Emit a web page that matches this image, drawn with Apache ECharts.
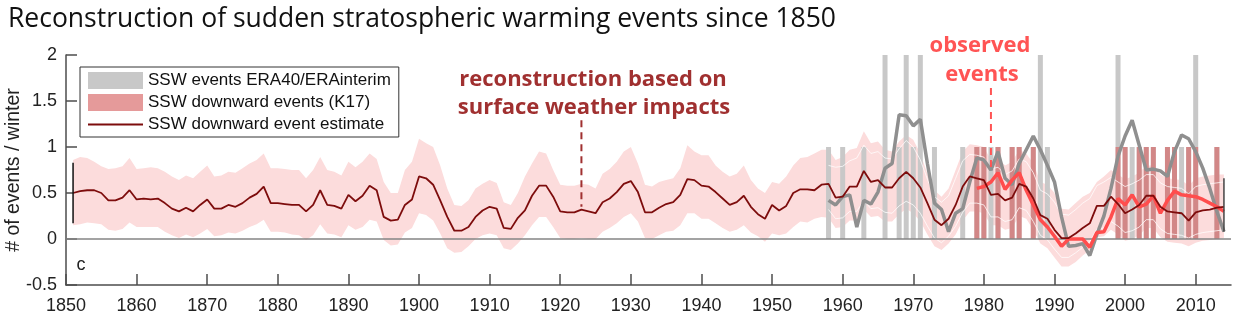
<!DOCTYPE html>
<html><head><meta charset="utf-8">
<script src="https://cdn.jsdelivr.net/npm/echarts@6/dist/echarts.min.js"></script>
<style>html,body{margin:0;padding:0;background:#fff}#c{width:1240px;height:324px}</style>
</head><body><div id="c"></div>
<script>
// ---------- DATA ----------
const estFirstYear = 1851;
const estimate = [
0.50,0.52,0.53,0.53,0.50,0.42,0.42,0.45,0.53,0.43,
0.44,0.43,0.44,0.39,0.33,0.30,0.34,0.30,0.37,0.43,
0.33,0.33,0.37,0.35,0.39,0.45,0.49,0.57,0.39,0.39,
0.38,0.37,0.37,0.30,0.37,0.53,0.37,0.36,0.33,0.48,
0.41,0.47,0.58,0.53,0.24,0.20,0.21,0.37,0.43,0.68,
0.66,0.59,0.42,0.24,0.09,0.09,0.13,0.24,0.31,0.35,
0.33,0.12,0.11,0.23,0.31,0.47,0.58,0.58,0.46,0.30,
0.29,0.29,0.32,0.30,0.28,0.40,0.44,0.51,0.60,0.63,
0.51,0.29,0.29,0.34,0.38,0.40,0.48,0.65,0.64,0.58,
0.57,0.51,0.44,0.37,0.40,0.47,0.35,0.27,0.22,0.37,
0.31,0.36,0.50,0.54,0.54,0.53,0.59,0.60,0.45,0.46,
0.57,0.57,0.74,0.62,0.64,0.56,0.56,0.66,0.73,0.66,
0.56,0.39,0.21,0.15,0.22,0.37,0.57,0.68,0.66,0.64,
0.48,0.49,0.42,0.45,0.60,0.57,0.44,0.26,0.22,0.10,
0.01,0.01,0.06,0.12,0.17,0.36,0.36,0.46,0.38,0.28,
0.32,0.37,0.47,0.47,0.35,0.30,0.29,0.28,0.20,0.29,
0.31,0.32,0.34,0.35];
const bandUpper = [
0.86,0.89,0.88,0.84,0.79,0.76,0.77,0.79,0.88,0.76,
0.77,0.78,0.77,0.73,0.68,0.64,0.69,0.66,0.73,0.80,
0.68,0.69,0.73,0.72,0.77,0.82,0.86,0.93,0.77,0.77,
0.76,0.75,0.75,0.66,0.75,0.89,0.75,0.73,0.69,0.84,
0.78,0.84,0.93,0.87,0.62,0.50,0.50,0.75,0.84,1.09,
1.04,1.00,0.80,0.55,0.37,0.36,0.42,0.55,0.60,0.64,
0.61,0.40,0.37,0.50,0.68,0.82,0.95,0.93,0.75,0.59,
0.58,0.58,0.60,0.59,0.55,0.71,0.76,0.84,0.95,1.00,
0.82,0.59,0.57,0.62,0.64,0.66,0.77,1.02,0.95,0.91,
0.91,0.80,0.73,0.68,0.71,0.80,0.64,0.55,0.50,0.62,
0.60,0.68,0.80,0.88,0.89,0.93,0.97,0.97,0.86,0.89,
0.97,0.99,1.17,1.04,1.06,0.97,0.95,1.06,1.13,1.08,
0.93,0.71,0.53,0.46,0.55,0.75,0.95,1.03,1.02,1.00,
0.86,0.88,0.80,0.84,0.97,0.93,0.82,0.62,0.59,0.50,
0.33,0.32,0.39,0.46,0.50,0.62,0.68,0.75,0.70,0.65,
0.68,0.72,0.80,0.80,0.70,0.66,0.65,0.64,0.58,0.66,
0.68,0.69,0.70,0.70];
const bandLower = [
0.15,0.16,0.18,0.17,0.16,0.10,0.09,0.11,0.18,0.13,
0.13,0.13,0.13,0.08,0.04,0.01,0.05,0.02,0.06,0.11,
0.03,0.04,0.07,0.06,0.09,0.13,0.16,0.21,0.08,0.08,
0.07,0.05,0.04,-0.01,0.04,0.16,0.06,0.05,0.02,0.15,
0.10,0.13,0.21,0.19,-0.01,-0.07,-0.06,0.07,0.12,0.28,
0.26,0.20,0.06,-0.10,-0.15,-0.14,-0.08,0.00,0.04,0.06,
0.04,-0.10,-0.12,-0.05,0.04,0.15,0.24,0.24,0.13,0.01,
0.00,0.00,0.01,0.00,0.00,0.08,0.12,0.17,0.24,0.28,
0.19,0.01,0.00,0.04,0.08,0.09,0.15,0.28,0.28,0.22,
0.22,0.17,0.12,0.08,0.10,0.15,0.07,0.03,-0.03,0.06,
0.04,0.06,0.13,0.19,0.18,0.22,0.24,0.23,0.12,0.13,
0.20,0.20,0.32,0.24,0.25,0.19,0.19,0.27,0.33,0.28,
0.19,0.05,-0.08,-0.12,-0.05,0.05,0.20,0.30,0.30,0.28,
0.15,0.15,0.10,0.12,0.25,0.22,0.10,-0.05,-0.10,-0.20,
-0.30,-0.30,-0.25,-0.18,-0.12,0.02,0.03,0.10,0.05,-0.02,
0.00,0.04,0.12,0.12,0.02,-0.03,-0.04,-0.05,-0.08,-0.04,
-0.02,-0.01,0.00,0.01];
// inner (light) bounds visible over the observation period
const innerFirstYear = 1958;
const innerUpper = [
0.80,0.78,0.79,0.85,0.88,1.02,0.93,0.95,0.88,0.87,
0.98,1.07,1.00,0.86,0.65,0.46,0.40,0.47,0.66,0.85,
0.92,0.91,0.89,0.76,0.78,0.70,0.74,0.87,0.84,0.72,
0.53,0.49,0.40,0.27,0.26,0.32,0.39,0.44,0.58,0.62,
0.67,0.62,0.57,0.60,0.64,0.70,0.70,0.61,0.57,0.56,
0.55,0.49,0.57,0.59,0.60,0.61,0.62];
const innerLower = [
0.32,0.22,0.23,0.30,0.30,0.42,0.33,0.34,0.29,0.28,
0.36,0.41,0.37,0.28,0.14,0.01,-0.04,0.03,0.14,0.29,
0.39,0.39,0.37,0.24,0.24,0.19,0.21,0.34,0.31,0.19,
0.04,-0.01,-0.11,-0.20,-0.20,-0.15,-0.09,-0.03,0.11,0.12,
0.19,0.14,0.07,0.09,0.13,0.21,0.21,0.11,0.06,0.05,
0.04,0.01,0.05,0.07,0.08,0.09,0.10];
const eraFirstYear = 1958;
const eraMean = [
0.42,0.37,0.46,0.48,0.13,0.42,0.38,0.51,0.77,0.82,
1.35,1.34,1.23,1.30,0.82,0.39,0.32,0.08,0.28,0.33,
0.62,0.88,0.86,0.75,0.95,0.66,0.59,0.82,0.97,1.12,
0.97,0.80,0.62,0.24,-0.08,-0.07,-0.05,-0.18,0.05,0.25,
0.55,0.90,1.12,1.29,1.02,0.75,0.76,0.74,0.68,0.95,
1.13,1.09,0.95,0.77,0.55,0.30,0.08];
const k17FirstYear = 1979;
const k17Mean = [
0.55,0.57,0.62,0.72,0.54,0.64,0.72,0.53,0.37,0.21,
0.13,0.03,-0.08,0.00,0.00,0.00,-0.09,0.07,0.08,0.24,
0.44,0.37,0.48,0.35,0.38,0.47,0.28,0.42,0.52,0.48,
0.47,0.46,0.43,0.39,0.35,0.30];
const eraEventYears  = [1958,1960,1963,1966,1968,1969,1970,1971,1973,1977,1979,1980,1981,1982,1984,1985,1987,1988,1989,1999,2000,2001,2002,2003,2004,2006,2007,2008,2009,2010,2013];
const eraEventCounts = [1,1,1,2,1,2,1,2,1,1,1,1,1,1,1,1,1,2,1,2,1,1,1,1,1,1,1,1,1,2,1];
const k17EventYears  = [1979,1980,1982,1984,1985,1987,1999,2000,2002,2003,2004,2006,2007,2009,2010,2013];
const k17EventCounts = [1,1,1,1,1,1,1,1,1,1,1,1,1,1,1,1];
const xTickYears = [1850,1860,1870,1880,1890,1900,1910,1920,1930,1940,1950,1960,1970,1980,1990,2000,2010];
const errBarLeft  = [[1851,0.17],[1851,0.83]];
const errBarRight = [[2014,0.08],[2014,0.66]];
const arrowRecon  = [[1923,1.29],[1923,0.35]];
const arrowObs    = [[1981,1.64],[1981,0.75]];

// ---------- BUILD ----------
const toPairs = (first, vals) => vals.map((v, i) => [first + i, v]);
const bandRows = bandUpper.map((u, i) => [estFirstYear + i, bandLower[i], u]);

const AX = '#4d4d4d';
const SANS = '"Liberation Sans", Arial, sans-serif';
const LINE_ICON = 'path://M0,0L0.01,0L0.01,0.01Z M0,7.6L55,7.6L55,9.4L0,9.4Z M54.99,16.99L55,16.99L55,17Z';
const innerStyle = {color: 'rgba(255,255,255,0.75)', width: 1};
const chart = echarts.init(document.getElementById('c'), null, {renderer: 'canvas'});
chart.setOption({
  animation: false,
  backgroundColor: '#fff',
  title: {
    text: 'Reconstruction of sudden stratospheric warming events since 1850',
    left: 3, top: 1,
    textStyle: {fontSize: 26.5, fontWeight: 'normal', color: '#111', fontFamily: '"Open Sans", sans-serif'}
  },
  grid: {left: 66, right: 9, top: 55, bottom: 39, containLabel: false, outerBoundsMode: 'none'},
  legend: {
    orient: 'vertical', left: 80, top: 67,
    padding: [5, 8, 4, 8], itemGap: 5, itemWidth: 55, itemHeight: 17,
    borderColor: '#333', borderWidth: 1, backgroundColor: '#fff',
    selectedMode: false,
    textStyle: {fontSize: 17, fontFamily: SANS, color: '#111'},
    data: [
      {name: 'SSW events ERA40/ERAinterim', icon: 'rect'},
      {name: 'SSW downward events (K17)', icon: 'rect'},
      {name: 'SSW downward event estimate', icon: LINE_ICON}
    ]
  },
  xAxis: {
    type: 'value', min: 1850, max: 2015, interval: 10,
    axisLine: {onZero: false, lineStyle: {color: AX, width: 1.5}},
    axisTick: {inside: true, length: 11, lineStyle: {color: AX, width: 1.5}, customValues: xTickYears},
    axisLabel: {fontSize: 18, color: '#222', fontFamily: SANS, margin: 12, customValues: xTickYears,
      formatter: v => String(v)},
    splitLine: {show: false}
  },
  yAxis: {
    type: 'value', min: -0.5, max: 2, interval: 0.5,
    name: '# of events / winter', nameLocation: 'middle', nameGap: 42, nameMoveOverlap: false,
    nameTextStyle: {fontSize: 19.5, color: '#222', fontFamily: SANS},
    axisLine: {show: true, lineStyle: {color: AX, width: 1.5}},
    axisTick: {show: true, inside: true, length: 11, lineStyle: {color: AX, width: 1.5}},
    axisLabel: {fontSize: 18, color: '#222', fontFamily: SANS, margin: 9},
    splitLine: {show: false}
  },
  graphic: [
    {type: 'text', x: 593, y: 80, z: 50, style: {text: 'reconstruction based on', font: 'bold 22px "Open Sans"', fill: '#a03030', textAlign: 'center', textVerticalAlign: 'middle'}},
    {type: 'text', x: 594, y: 108, z: 50, style: {text: 'surface weather impacts', font: 'bold 22px "Open Sans"', fill: '#a03030', textAlign: 'center', textVerticalAlign: 'middle'}},
    {type: 'text', x: 980, y: 46, z: 50, style: {text: 'observed', font: 'bold 22px "Open Sans"', fill: '#ff5454', textAlign: 'center', textVerticalAlign: 'middle'}},
    {type: 'text', x: 982, y: 75, z: 50, style: {text: 'events', font: 'bold 22px "Open Sans"', fill: '#ff5454', textAlign: 'center', textVerticalAlign: 'middle'}},
    {type: 'text', x: 81, y: 265, z: 50, style: {text: 'c', font: '18px "Liberation Sans"', fill: '#222', textAlign: 'center', textVerticalAlign: 'middle'}}
  ],
  series: [
    {
      type: 'custom', name: 'band', z: 1, silent: true,
      data: bandRows, encode: {x: 0, y: [1, 2]},
      renderItem: function (params, api) {
        if (params.dataIndex !== 0) return null;
        const top = [], bot = [];
        for (let i = 0; i < bandRows.length; i++) {
          top.push(api.coord([bandRows[i][0], bandRows[i][2]]));
          bot.push(api.coord([bandRows[i][0], bandRows[i][1]]));
        }
        return {type: 'polygon', shape: {points: top.concat(bot.reverse())}, style: {fill: '#fcdcdc'}};
      }
    },
    {
      type: 'line', name: 'zero', z: 2, silent: true, data: [],
      markLine: {silent: true, symbol: 'none', label: {show: false}, lineStyle: {color: '#858585', width: 1.5, type: 'solid'}, data: [{yAxis: 0}]}
    },
    {
      type: 'bar', name: 'SSW events ERA40/ERAinterim', z: 3, barWidth: 5, barGap: '-100%',
      data: eraEventYears.map((y, i) => [y, eraEventCounts[i]]),
      itemStyle: {color: '#c8c8c8'}
    },
    {
      type: 'bar', name: 'SSW downward events (K17)', z: 3, barWidth: 5, barGap: '-100%',
      data: k17EventYears.map((y, i) => [y, k17EventCounts[i]]),
      itemStyle: {color: 'rgba(215,100,100,0.65)'}
    },
    {type: 'line', name: 'innerUpper', z: 4, symbol: 'none', silent: true, data: toPairs(innerFirstYear, innerUpper), lineStyle: innerStyle},
    {type: 'line', name: 'innerLower', z: 4, symbol: 'none', silent: true, data: toPairs(innerFirstYear, innerLower), lineStyle: innerStyle},
    {
      type: 'line', name: 'ERA mean', z: 5, symbol: 'none', silent: true,
      data: toPairs(eraFirstYear, eraMean),
      lineStyle: {color: '#8f8f8f', width: 3.5}
    },
    {
      type: 'line', name: 'K17 mean', z: 6, symbol: 'none', silent: true,
      data: toPairs(k17FirstYear, k17Mean),
      lineStyle: {color: '#ff4d4d', width: 3.5}
    },
    {
      type: 'line', name: 'SSW downward event estimate', z: 7, symbol: 'none',
      data: toPairs(estFirstYear, estimate),
      lineStyle: {color: '#7d0c0c', width: 1.8}, itemStyle: {color: '#7d0c0c'}
    },
    {type: 'line', name: 'errL', z: 7, symbol: 'none', silent: true, data: errBarLeft, lineStyle: {color: '#111', width: 1.5}},
    {type: 'line', name: 'errR', z: 7, symbol: 'none', silent: true, data: errBarRight, lineStyle: {color: '#444', width: 1.5}},
    {type: 'line', name: 'arrowRecon', z: 7, symbol: 'none', silent: true, data: arrowRecon, lineStyle: {color: '#a03030', width: 2, type: [7, 5]}},
    {type: 'line', name: 'arrowObs', z: 7, symbol: 'none', silent: true, data: arrowObs, lineStyle: {color: '#ff5454', width: 2, type: [7, 5]}}
  ]
});
</script></body></html>
